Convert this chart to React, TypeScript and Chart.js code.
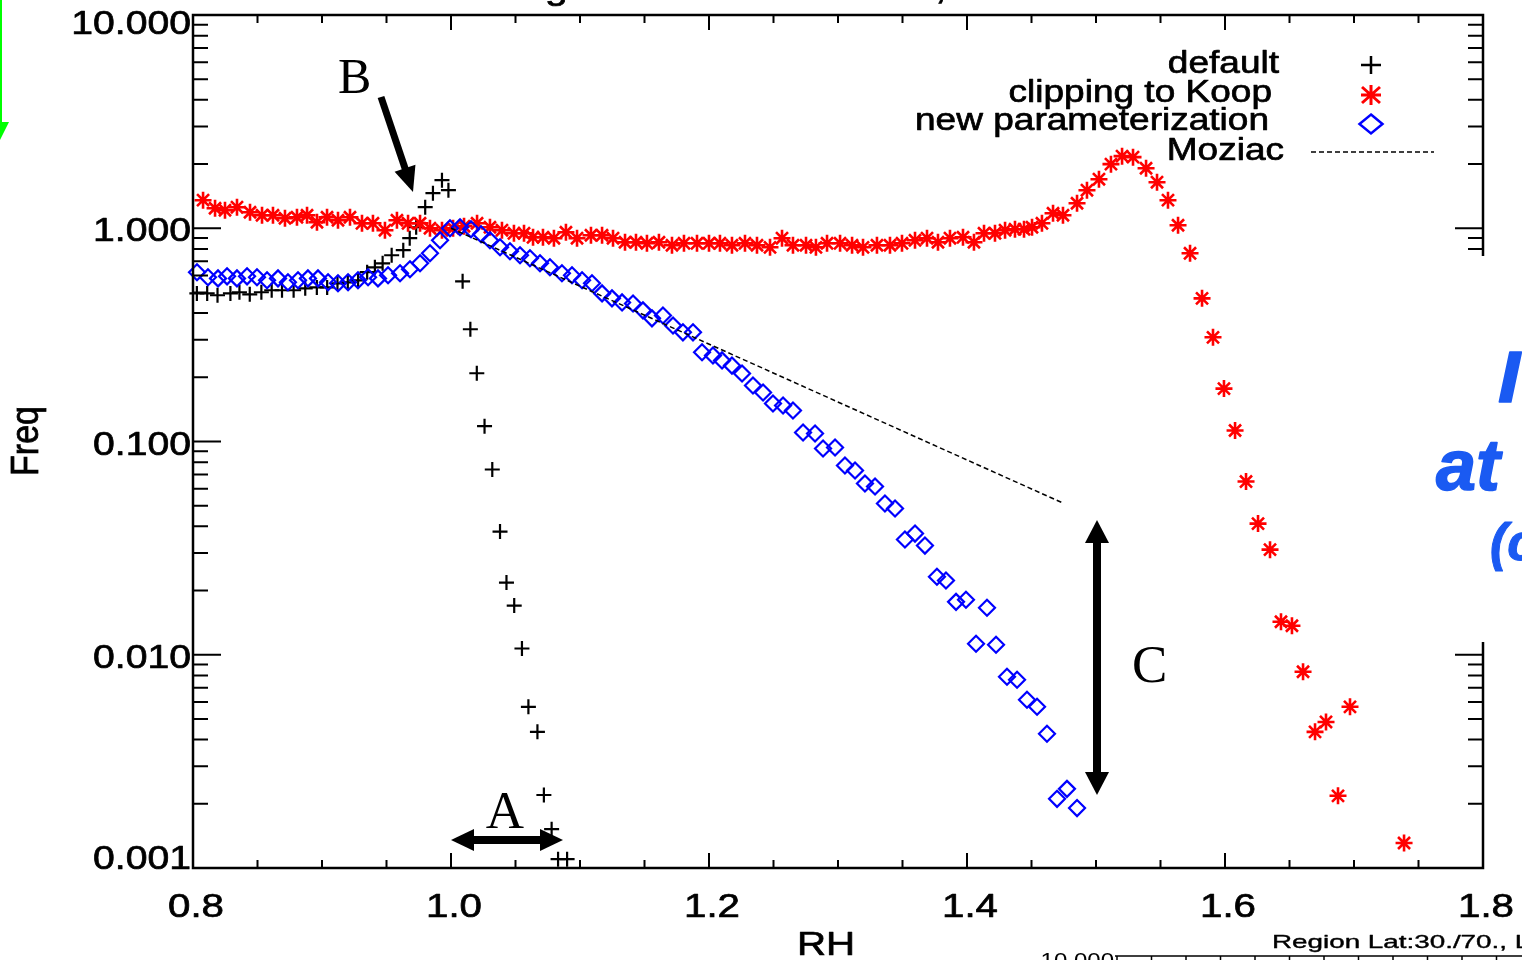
import React, { useEffect, useRef } from "react";
import { Chart, registerables } from "chart.js";

Chart.register(...registerables);

// ---------------- data ----------------
const defaultX = [0.803, 0.811, 0.819, 0.829, 0.836, 0.844, 0.853, 0.861, 0.869, 0.878, 0.887, 0.896, 0.904, 0.912, 0.920, 0.928, 0.935, 0.941, 0.947, 0.954, 0.963, 0.968, 0.973, 0.980, 0.986, 0.993, 0.998, 1.009, 1.015, 1.020, 1.026, 1.032, 1.038, 1.043, 1.049, 1.055, 1.060, 1.067, 1.072, 1.078, 1.083, 1.090];
const defaultY = [0.495, 0.495, 0.485, 0.495, 0.501, 0.490, 0.501, 0.512, 0.512, 0.512, 0.523, 0.528, 0.528, 0.552, 0.558, 0.570, 0.622, 0.656, 0.685, 0.747, 0.789, 0.898, 1.011, 1.255, 1.460, 1.680, 1.508, 0.564, 0.336, 0.209, 0.118, 0.0739, 0.0378, 0.0218, 0.0170, 0.0107, 0.0057, 0.00435, 0.0022, 0.00152, 0.0011, 0.0011];

const koopX = [0.8078, 0.8171, 0.8248, 0.8341, 0.8442, 0.8535, 0.8620, 0.8713, 0.8806, 0.8884, 0.8961, 0.9039, 0.9124, 0.9217, 0.9310, 0.9395, 0.9488, 0.9581, 0.9667, 0.9760, 0.9837, 0.9930, 1.0016, 1.0101, 1.0202, 1.0302, 1.0395, 1.0488, 1.0566, 1.0636, 1.0713, 1.0798, 1.0891, 1.0977, 1.1085, 1.1171, 1.1256, 1.1349, 1.1434, 1.1519, 1.1612, 1.1713, 1.1806, 1.1907, 1.2000, 1.2085, 1.2178, 1.2279, 1.2372, 1.2473, 1.2566, 1.2651, 1.2752, 1.2829, 1.2915, 1.3016, 1.3109, 1.3194, 1.3302, 1.3403, 1.3496, 1.3597, 1.3690, 1.3775, 1.3868, 1.3969, 1.4054, 1.4132, 1.4217, 1.4295, 1.4372, 1.4442, 1.4504, 1.4581, 1.4667, 1.4744, 1.4853, 1.4930, 1.5023, 1.5116, 1.5202, 1.5287, 1.5388, 1.5473, 1.5558, 1.5636, 1.5729, 1.5822, 1.5907, 1.5992, 1.6078, 1.6163, 1.6256, 1.6349, 1.6434, 1.6519, 1.6605, 1.6698, 1.6783, 1.6876, 1.6969, 1.7388];
const koopY = [1.354, 1.241, 1.215, 1.255, 1.189, 1.151, 1.151, 1.114, 1.126, 1.151, 1.067, 1.126, 1.090, 1.126, 1.055, 1.055, 0.979, 1.090, 1.055, 1.055, 1.000, 0.979, 1.000, 1.022, 1.055, 1.011, 0.979, 0.947, 0.947, 0.907, 0.907, 0.898, 0.958, 0.898, 0.927, 0.927, 0.898, 0.860, 0.860, 0.850, 0.860, 0.832, 0.850, 0.850, 0.850, 0.850, 0.832, 0.850, 0.832, 0.814, 0.898, 0.832, 0.832, 0.814, 0.850, 0.850, 0.832, 0.814, 0.832, 0.832, 0.850, 0.878, 0.898, 0.860, 0.898, 0.907, 0.860, 0.947, 0.947, 0.979, 0.989, 0.989, 1.011, 1.055, 1.176, 1.151, 1.310, 1.508, 1.698, 1.998, 2.178, 2.155, 1.912, 1.644, 1.354, 1.033, 0.763, 0.469, 0.308, 0.177, 0.1126, 0.0649, 0.0412, 0.0311, 0.01428, 0.01368, 0.00832, 0.00435, 0.00484, 0.00218, 0.00570, 0.00131];

const newParX = [0.8031, 0.8116, 0.8194, 0.8264, 0.8341, 0.8419, 0.8496, 0.8574, 0.8659, 0.8736, 0.8814, 0.8891, 0.8969, 0.9047, 0.9124, 0.9202, 0.9279, 0.9357, 0.9434, 0.9512, 0.9605, 0.9682, 0.9760, 0.9837, 0.9915, 0.9992, 1.0070, 1.0155, 1.0233, 1.0302, 1.0380, 1.0457, 1.0535, 1.0612, 1.0690, 1.0767, 1.0860, 1.0938, 1.1016, 1.1093, 1.1171, 1.1248, 1.1326, 1.1411, 1.1488, 1.1558, 1.1643, 1.1721, 1.1798, 1.1876, 1.1946, 1.2031, 1.2101, 1.2178, 1.2256, 1.2341, 1.2419, 1.2496, 1.2574, 1.2651, 1.2729, 1.2822, 1.2884, 1.2977, 1.3054, 1.3132, 1.3209, 1.3287, 1.3364, 1.3442, 1.3519, 1.3597, 1.3674, 1.3767, 1.3837, 1.3915, 1.3992, 1.4070, 1.4155, 1.4225, 1.4310, 1.4388, 1.4465, 1.4543, 1.4620, 1.4698, 1.4775, 1.4853];
const newParY = [0.622, 0.589, 0.582, 0.595, 0.582, 0.595, 0.589, 0.570, 0.582, 0.558, 0.570, 0.582, 0.582, 0.558, 0.552, 0.558, 0.570, 0.589, 0.582, 0.602, 0.615, 0.642, 0.685, 0.763, 0.878, 1.000, 1.011, 0.989, 0.937, 0.878, 0.814, 0.780, 0.747, 0.723, 0.685, 0.656, 0.615, 0.602, 0.570, 0.552, 0.495, 0.469, 0.449, 0.444, 0.412, 0.378, 0.390, 0.350, 0.325, 0.325, 0.262, 0.253, 0.240, 0.227, 0.2085, 0.1832, 0.1698, 0.1508, 0.1476, 0.1398, 0.1102, 0.1090, 0.0927, 0.0937, 0.0772, 0.0731, 0.0635, 0.0615, 0.0512, 0.0485, 0.0347, 0.0370, 0.0325, 0.0232, 0.0223, 0.0177, 0.0181, 0.01126, 0.01662, 0.01114, 0.00788, 0.00763, 0.00615, 0.00570, 0.00426, 0.00211, 0.00235, 0.00191];

const moziacX = [1.0, 1.4736];
const moziacY = [1.0, 0.0517];

const xTickValues = [0.8, 1.0, 1.2, 1.4, 1.6, 1.8];
const xTickLabels = ["0.8", "1.0", "1.2", "1.4", "1.6", "1.8"];
const yTickValues = [10, 1, 0.1, 0.01, 0.001];
const yTickLabels = ["10.000", "1.000", "0.100", "0.010", "0.001"];
const legendLabels = ["default", "clipping to Koop", "new parameterization", "Moziac"];
const xTitle = "RH";
const yTitle = "Freq";

// ---------------- helpers ----------------
const SANS = '"Liberation Sans", Arial, Helvetica, sans-serif';
const SERIF = '"Liberation Serif", "Times New Roman", serif';

const toPoints = (xs: number[], ys: number[]) => xs.map((x, i) => ({ x, y: ys[i] }));

function drawText(
  ctx: CanvasRenderingContext2D,
  text: string,
  x: number,
  y: number,
  font: string,
  align: CanvasTextAlign,
  sx = 1,
  color = "#000",
  heavy = 0
) {
  ctx.save();
  ctx.translate(x, y);
  ctx.scale(sx, 1);
  ctx.font = font;
  ctx.fillStyle = color;
  ctx.textAlign = align;
  ctx.textBaseline = "alphabetic";
  ctx.fillText(text, 0, 0);
  if (heavy > 0) {
    ctx.strokeStyle = color;
    ctx.lineWidth = heavy;
    ctx.lineJoin = "round";
    ctx.strokeText(text, 0, 0);
  }
  ctx.restore();
}

function fitScale(ctx: CanvasRenderingContext2D, text: string, font: string, target: number) {
  ctx.save();
  ctx.font = font;
  const w = ctx.measureText(text).width;
  ctx.restore();
  return w > 0 ? target / w : 1;
}

function arrowHead(ctx: CanvasRenderingContext2D, tx: number, ty: number, ux: number, uy: number, len: number, hw: number) {
  const bx = tx - ux * len;
  const by = ty - uy * len;
  const nx = -uy;
  const ny = ux;
  ctx.beginPath();
  ctx.moveTo(tx, ty);
  ctx.lineTo(bx + nx * hw, by + ny * hw);
  ctx.lineTo(bx - nx * hw, by - ny * hw);
  ctx.closePath();
  ctx.fill();
}

function arrow(ctx: CanvasRenderingContext2D, x1: number, y1: number, x2: number, y2: number, w: number, len: number, hw: number, both: boolean) {
  const dx = x2 - x1;
  const dy = y2 - y1;
  const d = Math.hypot(dx, dy);
  const ux = dx / d;
  const uy = dy / d;
  const sx = both ? x1 + ux * (len - 2) : x1;
  const sy = both ? y1 + uy * (len - 2) : y1;
  const ex = x2 - ux * (len - 2);
  const ey = y2 - uy * (len - 2);
  ctx.lineWidth = w;
  ctx.lineCap = "butt";
  ctx.beginPath();
  ctx.moveTo(sx, sy);
  ctx.lineTo(ex, ey);
  ctx.stroke();
  arrowHead(ctx, x2, y2, ux, uy, len, hw);
  if (both) arrowHead(ctx, x1, y1, -ux, -uy, len, hw);
}

const decorPlugin = {
  id: "decor",
  afterDraw(chart: any) {
    const ctx = chart.ctx as CanvasRenderingContext2D;
    const xs = chart.scales.x;
    const ys = chart.scales.y;
    const { left, right, top, bottom } = chart.chartArea;
    ctx.save();

    // ---- ticks (inward, on all four sides) ----
    ctx.strokeStyle = "#000";
    ctx.lineWidth = 2;
    ctx.beginPath();
    for (let i = 0; i <= 20; i++) {
      const p = xs.getPixelForValue(0.8 + i * 0.05);
      const L = i % 4 === 0 ? 15 : 8;
      ctx.moveTo(p, bottom);
      ctx.lineTo(p, bottom - L);
      ctx.moveTo(p, top);
      ctx.lineTo(p, top + L);
    }
    for (let e = -3; e <= 1; e++) {
      for (let m = 1; m <= 9; m++) {
        if (e === 1 && m > 1) break;
        const p = ys.getPixelForValue(m * Math.pow(10, e));
        const L = m === 1 ? 28 : 15;
        ctx.moveTo(left, p);
        ctx.lineTo(left + L, p);
        ctx.moveTo(right, p);
        ctx.lineTo(right - L, p);
      }
    }
    ctx.stroke();

    // ---- frame ----
    ctx.lineWidth = 2.5;
    ctx.strokeRect(left, top, right - left, bottom - top);

    // ---- tick labels ----
    const tickFont = `34px ${SANS}`;
    const sY = fitScale(ctx, "1.000", tickFont, 98);
    yTickValues.forEach((v, i) => {
      const p = ys.getPixelForValue(v);
      const c = Math.min(Math.max(p + 1, top + 7), bottom - 11);
      drawText(ctx, yTickLabels[i], left - 2, c + 12, tickFont, "right", sY, "#000", 0.7);
    });
    const sX = fitScale(ctx, "0.8", tickFont, 56);
    xTickValues.forEach((v, i) => {
      const p = xs.getPixelForValue(v);
      drawText(ctx, xTickLabels[i], p + 3, bottom + 49, tickFont, "center", sX, "#000", 0.7);
    });

    // ---- axis titles ----
    drawText(ctx, xTitle, 826, 955, tickFont, "center", sX, "#000", 0.7);
    ctx.save();
    ctx.translate(38, 441);
    ctx.rotate(-Math.PI / 2);
    ctx.scale(1, 1.15);
    ctx.font = tickFont;
    ctx.fillStyle = "#000";
    ctx.strokeStyle = "#000";
    ctx.lineWidth = 0.7;
    ctx.textAlign = "center";
    ctx.fillText(yTitle, 0, 0);
    ctx.strokeText(yTitle, 0, 0);
    ctx.restore();

    // ---- legend ----
    const legFont = `31px ${SANS}`;
    const sL = fitScale(ctx, "new parameterization", legFont, 354);
    const legRight = [1279, 1272, 1269, 1284];
    const legBase = [73, 102, 130, 160];
    legendLabels.forEach((t, i) => drawText(ctx, t, legRight[i], legBase[i], legFont, "right", sL, "#000", 0.7));
    const sxm = 1371;
    ctx.lineWidth = 2.5;
    // plus
    ctx.strokeStyle = "#000";
    ctx.beginPath();
    ctx.moveTo(sxm - 10, 65);
    ctx.lineTo(sxm + 10, 65);
    ctx.moveTo(sxm, 56);
    ctx.lineTo(sxm, 74);
    ctx.stroke();
    // star
    ctx.strokeStyle = "#ff0000";
    ctx.lineWidth = 3;
    ctx.beginPath();
    ctx.moveTo(sxm - 10, 95);
    ctx.lineTo(sxm + 10, 95);
    ctx.moveTo(sxm, 85);
    ctx.lineTo(sxm, 105);
    ctx.moveTo(sxm - 9, 87);
    ctx.lineTo(sxm + 9, 103);
    ctx.moveTo(sxm + 9, 87);
    ctx.lineTo(sxm - 9, 103);
    ctx.stroke();
    // diamond
    ctx.lineWidth = 2.5;
    ctx.strokeStyle = "#0000ff";
    ctx.beginPath();
    ctx.moveTo(sxm, 114.5);
    ctx.lineTo(sxm + 11.5, 124);
    ctx.lineTo(sxm, 133.5);
    ctx.lineTo(sxm - 11.5, 124);
    ctx.closePath();
    ctx.stroke();
    // dashed line
    ctx.strokeStyle = "#000";
    ctx.lineWidth = 1.5;
    ctx.setLineDash([5, 3]);
    ctx.beginPath();
    ctx.moveTo(1311, 152);
    ctx.lineTo(1434, 152);
    ctx.stroke();
    ctx.setLineDash([]);

    // ---- annotations (A, B, C with arrows) ----
    ctx.fillStyle = "#000";
    ctx.strokeStyle = "#000";
    drawText(ctx, "B", 338, 93, `50px ${SERIF}`, "left");
    arrow(ctx, 381, 97, 413, 192, 7, 25, 11, false);
    drawText(ctx, "A", 505, 828, `53px ${SERIF}`, "center");
    arrow(ctx, 451, 840, 563, 840, 8, 23, 11, true);
    drawText(ctx, "C", 1132, 682, `53px ${SERIF}`, "left");
    arrow(ctx, 1097, 520, 1097, 795, 8, 23, 12, true);

    // ---- slide overlay bits ----
    ctx.fillStyle = "#ffffff";
    ctx.fillRect(1445, 256, 77, 386);
    const blue = "#1a5af2";
    drawText(ctx, "I", 1498, 402, `bold italic 72px ${SANS}`, "left", 1.1, blue, 1.5);
    drawText(ctx, "at", 1436, 490, `bold italic 72px ${SANS}`, "left", 1, blue, 1.5);
    drawText(ctx, "(c", 1490, 560, `bold italic 52px ${SANS}`, "left", 1, blue, 1);

    // green arrow at the left edge
    ctx.fillStyle = "#00ff00";
    ctx.fillRect(0, 0, 2, 124);
    ctx.beginPath();
    ctx.moveTo(-9, 122);
    ctx.lineTo(9, 122);
    ctx.lineTo(0, 140);
    ctx.closePath();
    ctx.fill();

    // cut-off title fragments at the very top
    drawText(ctx, "g", 545, -1, `34px ${SANS}`, "left", 1.2, "#000", 0.7);
    drawText(ctx, ",", 935, -1, `34px ${SANS}`, "left", 1.2, "#000", 0.7);

    // region caption and the next panel's axis at the bottom right
    const capFont = `19px ${SANS}`;
    const sC = fitScale(ctx, "Region Lat:30./70.,", capFont, 235);
    drawText(ctx, "Region Lat:30./70., Lon", 1272, 948, capFont, "left", sC, "#000", 0.4);
    drawText(ctx, "10.000", 1114, 967, `20px ${SANS}`, "right", 1.2);
    ctx.strokeStyle = "#000";
    ctx.lineWidth = 1.5;
    ctx.beginPath();
    ctx.moveTo(1115, 956);
    ctx.lineTo(1522, 956);
    for (let k = 0; k < 12; k++) {
      const tx = 1117 + k * 34.5;
      ctx.moveTo(tx, 956);
      ctx.lineTo(tx, 961);
    }
    ctx.stroke();

    ctx.restore();
  },
};

export default function App() {
  const canvasRef = useRef<HTMLCanvasElement | null>(null);

  useEffect(() => {
    document.body.style.margin = "0";
    const canvas = canvasRef.current;
    if (!canvas) return;
    const chart = new Chart(canvas, {
      type: "scatter",
      data: {
        datasets: [
          {
            label: legendLabels[3],
            data: toPoints(moziacX, moziacY),
            showLine: true,
            borderColor: "#000",
            borderWidth: 1.5,
            borderDash: [5, 3],
            pointRadius: 0,
            fill: false,
          },
          {
            label: legendLabels[2],
            data: toPoints(newParX, newParY),
            pointStyle: "rectRot",
            pointRadius: 8,
            pointBorderWidth: 2.2,
            pointBorderColor: "#0000ff",
            pointBackgroundColor: "rgba(0,0,0,0)",
            borderColor: "#0000ff",
            backgroundColor: "rgba(0,0,0,0)",
          },
          {
            label: legendLabels[1],
            data: toPoints(koopX, koopY),
            pointStyle: "star",
            pointRadius: 8.5,
            pointBorderWidth: 2.6,
            pointBorderColor: "#ff0000",
            pointBackgroundColor: "#ff0000",
            borderColor: "#ff0000",
          },
          {
            label: legendLabels[0],
            data: toPoints(defaultX, defaultY),
            pointStyle: "cross",
            pointRadius: 7.5,
            pointBorderWidth: 2.2,
            pointBorderColor: "#000",
            pointBackgroundColor: "#000",
            borderColor: "#000",
          },
        ],
      },
      options: {
        responsive: false,
        maintainAspectRatio: false,
        animation: false,
        devicePixelRatio: 1,
        events: [],
        clip: false as any,
        layout: { padding: { left: 193, top: 15, right: 39, bottom: 92 } },
        plugins: {
          legend: { display: false },
          tooltip: { enabled: false },
          title: { display: false },
        },
        scales: {
          x: { type: "linear", min: 0.8, max: 1.8, display: false },
          y: { type: "logarithmic", min: 0.001, max: 10, display: false },
        },
      },
      plugins: [decorPlugin],
    });
    return () => chart.destroy();
  }, []);

  return (
    <div style={{ position: "fixed", left: 0, top: 0, width: 1522, height: 960, background: "#fff" }}>
      <canvas ref={canvasRef} width={1522} height={960} style={{ display: "block", width: 1522, height: 960 }} />
    </div>
  );
}
